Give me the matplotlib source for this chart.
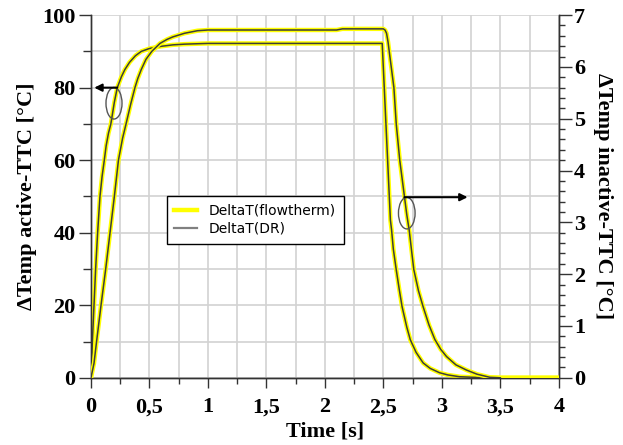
import matplotlib
matplotlib.use('Agg')
import matplotlib.pyplot as plt
from matplotlib.patches import Ellipse
from matplotlib.lines import Line2D
from matplotlib.ticker import MultipleLocator, FuncFormatter

# active TTC, left axis [°C]
t_active = [0, 0.012, 0.026, 0.04, 0.057, 0.077, 0.095, 0.114, 0.13, 0.15, 0.17, 0.2,
            0.225, 0.26, 0.29, 0.33, 0.38, 0.43, 0.5, 0.6, 0.7, 0.8, 0.9, 1.0,
            2.49, 2.56, 2.57, 2.585, 2.61, 2.635, 2.66, 2.70, 2.73, 2.78,
            2.84, 2.90, 2.98, 3.05, 3.15, 3.3, 3.5, 4.0]
dT_active = [0, 10, 20, 30, 40, 50, 55.5, 60, 64, 67.5, 70, 76,
             80, 83, 85, 87, 88.8, 90, 90.8, 91.4, 91.8, 92.0, 92.1, 92.2,
             92.2, 43.5, 40.8, 35.5, 29.8, 24.5, 19.6, 14, 10.5, 7,
             4.1, 2.6, 1.4, 0.8, 0.3, 0.1, 0, 0]

# inactive TTC, right axis [°C]
t_inactive = [0, 0.026, 0.048, 0.086, 0.126, 0.163, 0.2, 0.235, 0.27, 0.30, 0.34, 0.376,
              0.40, 0.43, 0.47, 0.52, 0.59, 0.65, 0.70, 0.80, 0.91, 1.0, 2.1, 2.15,
              2.50, 2.515, 2.527, 2.54, 2.55, 2.57, 2.59, 2.61, 2.64, 2.68, 2.70, 2.72,
              2.76, 2.80, 2.84, 2.89, 2.94, 2.99, 3.04, 3.12, 3.21, 3.30, 3.41, 3.5, 4.0]
dT_inactive = [0, 0.28, 0.7, 1.4, 2.1, 2.8, 3.5, 4.2, 4.62, 4.9, 5.285, 5.6,
               5.775, 5.95, 6.146, 6.3, 6.454, 6.531, 6.58, 6.65, 6.699, 6.713, 6.713, 6.735,
               6.735, 6.71, 6.65, 6.48, 6.3, 5.95, 5.6, 4.9, 4.2, 3.5, 3.15, 2.86,
               2.09, 1.68, 1.37, 1.02, 0.74, 0.55, 0.41, 0.25, 0.15, 0.07, 0.01, 0, 0]

# DR model ends earlier than the measurement
n_dr_act = len(t_active) - 1
n_dr_inact = len(t_inactive) - 1

yellow = '#ffff00'
dark = '#3c3c3c'

fig = plt.figure(figsize=(6.23, 4.45), dpi=100)
ax = fig.add_axes([0.146, 0.151, 0.751, 0.815])
ax2 = ax.twinx()

ax.plot(t_active, dT_active, color=yellow, lw=3.2, solid_joinstyle='round', zorder=3)
ax.plot(t_active[:n_dr_act], dT_active[:n_dr_act], color=dark, lw=1.1, zorder=4)
ax2.plot(t_inactive, dT_inactive, color=yellow, lw=3.2, solid_joinstyle='round', zorder=3)
ax2.plot(t_inactive[:n_dr_inact], dT_inactive[:n_dr_inact], color=dark, lw=1.1, zorder=4)

ax.set_xlim(0, 4)
ax.set_ylim(0, 100)
ax2.set_ylim(0, 7)

ax.xaxis.set_major_locator(MultipleLocator(0.5))
ax.xaxis.set_minor_locator(MultipleLocator(0.25))
ax.yaxis.set_major_locator(MultipleLocator(20))
ax.yaxis.set_minor_locator(MultipleLocator(10))
ax2.yaxis.set_major_locator(MultipleLocator(1))
ax2.yaxis.set_minor_locator(MultipleLocator(0.2))

comma = FuncFormatter(lambda v, p: ('%g' % v).replace('.', ','))
ax.xaxis.set_major_formatter(comma)

ax.grid(which='both', color='#d2d2d2', lw=1.2, zorder=0)
ax.set_axisbelow(True)

for a in (ax, ax2):
    a.spines['top'].set_visible(False)
    for s in a.spines.values():
        s.set_color('#333333')
        s.set_linewidth(1.0)
    a.tick_params(which='both', direction='out', color='#333333', width=1.0)

ax.tick_params(axis='y', which='major', length=9, pad=2)
ax.tick_params(axis='y', which='minor', length=6)
ax.tick_params(axis='x', which='major', length=7, pad=7)
ax.tick_params(axis='x', which='minor', length=4)
ax2.tick_params(axis='y', which='major', length=9, pad=2)
ax2.tick_params(axis='y', which='minor', length=4)

tfont = dict(family='Liberation Serif', weight='bold', size=16)
for lab in ax.get_xticklabels() + ax.get_yticklabels() + ax2.get_yticklabels():
    lab.set_fontfamily('Liberation Serif')
    lab.set_fontweight('bold')
    lab.set_fontsize(16)

ax.set_xlabel('Time [s]', fontdict=tfont, labelpad=3)
ax.set_ylabel('ΔTemp active-TTC [°C]', fontdict=tfont, labelpad=4)
ax2.set_ylabel('ΔTemp inactive-TTC [°C]', fontdict=tfont, rotation=270, labelpad=20)

# markers showing which axis each curve belongs to
ax.add_patch(Ellipse((0.197, 75.7), 0.137, 8.7, fill=False, ec='#555555', lw=1.0, zorder=6))
ax.annotate('', xy=(0.028, 80), xytext=(0.225, 80),
            arrowprops=dict(arrowstyle='-|>', color='black', lw=1.5, mutation_scale=11,
                            shrinkA=0, shrinkB=0), zorder=6)
ax2.add_patch(Ellipse((2.70, 45.4 * 0.07), 0.142, 8.7 * 0.07, fill=False, ec='#555555',
                      lw=1.0, zorder=6))
ax2.annotate('', xy=(3.22, 49.8 * 0.07), xytext=(2.68, 49.8 * 0.07),
             arrowprops=dict(arrowstyle='-|>', color='black', lw=1.5, mutation_scale=11,
                             shrinkA=0, shrinkB=0), zorder=6)

handles = [Line2D([], [], color=yellow, lw=3.2), Line2D([], [], color='#808080', lw=1.6)]
leg = ax2.legend(handles, ['DeltaT(flowtherm)', 'DeltaT(DR)'], loc='upper left',
                 bbox_to_anchor=(0.162, 0.501), borderaxespad=0, fancybox=False,
                 framealpha=1, edgecolor='black', handlelength=1.6,
                 prop=dict(family='DejaVu Sans', size=10), labelspacing=0.3,
                 borderpad=0.55, handletextpad=0.9)
leg.get_frame().set_linewidth(1.0)

fig.savefig('out.png', dpi=100)
